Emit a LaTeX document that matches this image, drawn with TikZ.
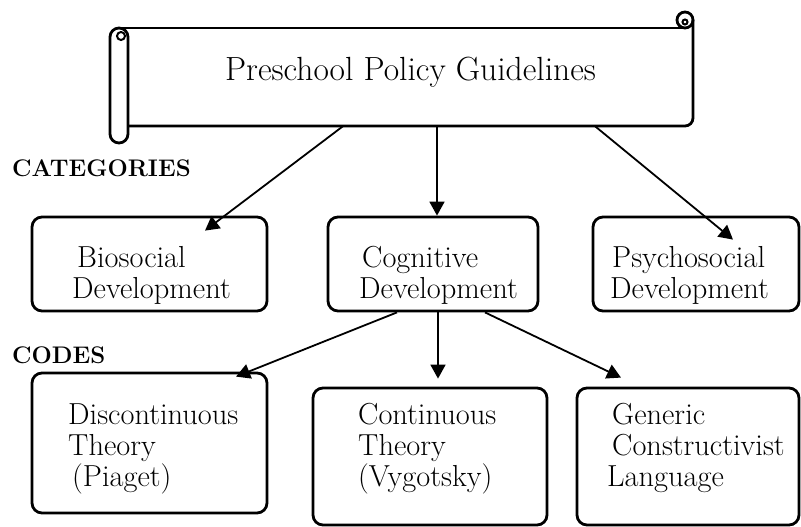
\documentclass[tikz,border=0pt]{standalone}
\usetikzlibrary{arrows.meta}

\begin{document}
\begin{tikzpicture}[x=1pt, y=-1pt,
  box/.style={draw, line width=2.8pt, rounded corners=10pt, inner sep=0pt},
  txt/.style={inner sep=0pt, anchor=base west, align=left, font=\fontsize{30.4}{31}\selectfont},
  head/.style={inner sep=0pt, anchor=base west, font=\bfseries\fontsize{24}{28}\selectfont},
  arr/.style={line width=1.8pt, -{Triangle[length=14pt,width=15pt]}}]
  \useasboundingbox (0,0) rectangle (801,527);

  % the scroll
  \draw[line width=2.8pt, rounded corners=8pt] (128,126) -- (693,126) -- (693,20);
  \draw[line width=2.8pt] (119,28) -- (685,28);
  \draw[line width=2.8pt] (685,20) circle (8pt);
  \draw[line width=2pt] (685,22) circle (2.5pt);
  \draw[line width=2.8pt, rounded corners=9pt, fill=white] (110,28) rectangle (128,143);
  \draw[line width=2pt] (121,36) circle (4pt);
  \node[inner sep=0pt, minimum width=565pt, minimum height=98pt, text height=23pt, text depth=15pt,
    font=\fontsize{33.5}{40}\selectfont] (title) at (410.5,77) {Preschool Policy Guidelines};

  \node[head] (cat) at (12,176) {CATEGORIES};
  \node[head] (codes) at (12,363) {CODES};

  % categories
  \node[box, minimum width=235pt, minimum height=94pt] (bio) at (149.5,264) {};
  \node[box, minimum width=210pt, minimum height=94pt] (cog) at (433,264) {};
  \node[box, minimum width=206pt, minimum height=94pt] (psy) at (696,264) {};
  \node[txt] (biotext) at (72,298) {\hspace{5pt}Biosocial\\Development};
  \node[txt] (cogtext) at (359,298) {\hspace{3pt}Cognitive\\Development};
  \node[txt] (psytext) at (610,298) {\hspace{2pt}Psychosocial\\Development};

  % codes
  \node[box, minimum width=235pt, minimum height=140pt] (disc) at (149.5,443) {};
  \node[box, minimum width=234pt, minimum height=137pt] (cont) at (430,456.5) {};
  \node[box, minimum width=222pt, minimum height=137pt] (gen) at (688,456.5) {};
  \node[txt] (disctext) at (68,486) {Discontinuous\\Theory\\\hspace{4pt}(Piaget)};
  \node[txt] (conttext) at (358,486) {Continuous\\Theory\\(Vygotsky)};
  \node[txt] (gentext) at (607,486) {\hspace{5pt}Generic\\\hspace{5pt}Constructivist\\Language};

  \draw[arr] ([xshift=-67.5pt]title.south) -- ([xshift=55.5pt,yshift=-15pt]bio.north);
  \draw[arr] ([xshift=26.5pt]title.south) -- ([xshift=4pt]cog.north);
  \draw[arr] ([xshift=184.5pt]title.south) -- ([xshift=37pt,yshift=-24pt]psy.north);

  \draw[arr] ([xshift=-36pt]cog.south) -- ([xshift=86.5pt,yshift=-5pt]disc.north);
  \draw[arr] ([xshift=5pt]cog.south) -- ([xshift=8pt,yshift=8pt]cont.north);
  \draw[arr] ([xshift=52pt]cog.south) -- ([xshift=-67pt,yshift=9pt]gen.north);
\end{tikzpicture}
\end{document}
